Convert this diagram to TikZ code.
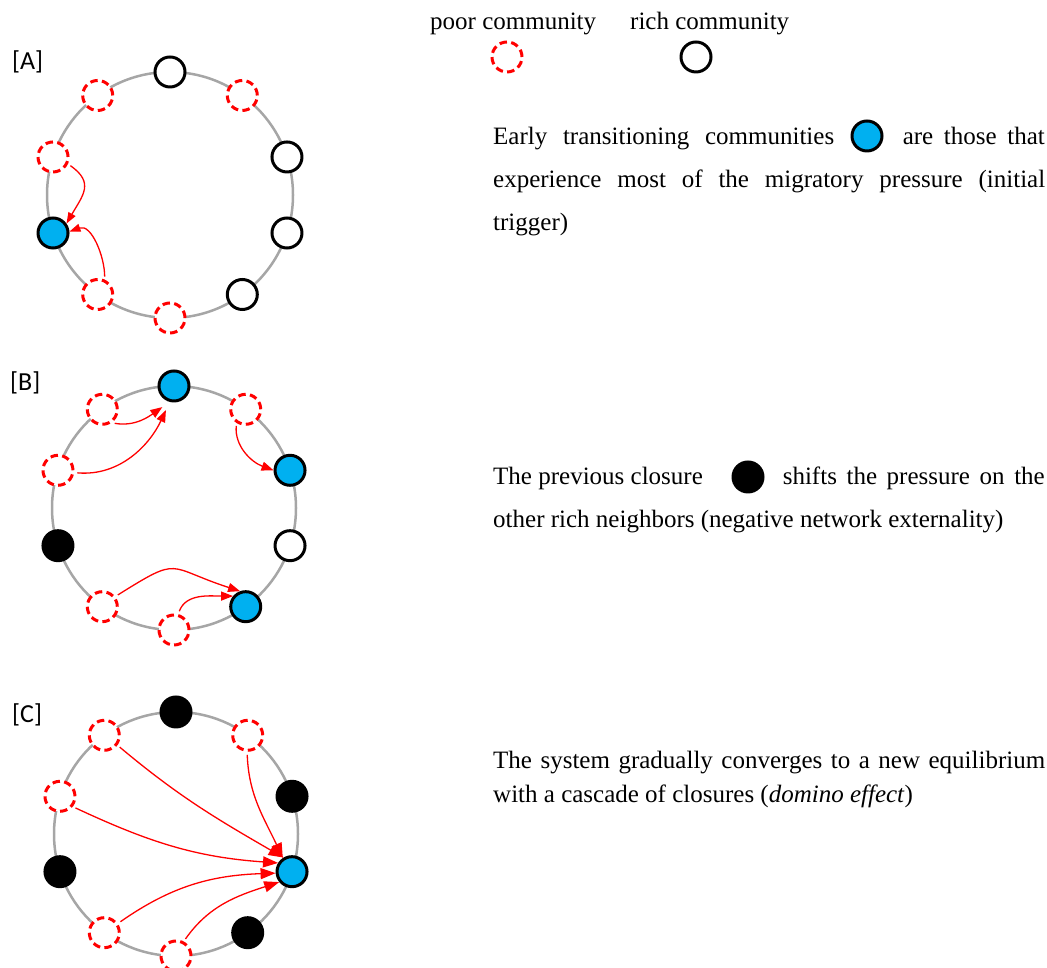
\documentclass[tikz,border=0pt]{standalone}
\usepackage{fontspec}
\setmainfont{Liberation Serif}
\newfontfamily\panelfont{Carlito}
\usetikzlibrary{arrows.meta}

\definecolor{ringgray}{RGB}{166,166,166}
\definecolor{transblue}{RGB}{0,176,240}

\begin{document}
\begin{tikzpicture}[
    x=1pt, y=1pt,
    font=\fontsize{25}{30}\selectfont,
    ring/.style={draw=ringgray, line width=2.5pt},
    community/.style={
        circle,
        minimum size=30pt,
        inner sep=0pt,
        line width=3pt
    },
    poor/.style={
        community,
        draw=red,
        fill=white,
        dash pattern=on 7.5pt off 4.28pt
    },
    rich/.style={community, draw=black, fill=white},
    early/.style={community, draw=black, fill=transblue},
    closed/.style={community, draw=black, fill=black},
    push/.style={
        -{Triangle[length=12pt,width=9pt]},
        red,
        line width=1.3pt,
        shorten <=3pt
    },
    pushbig/.style={
        push,
        -{Triangle[length=15pt,width=11pt]}
    },
    textline/.style={anchor=base west, inner sep=0pt},
    panel/.style={
        font=\panelfont\fontsize{26}{30}\selectfont,
        anchor=base west,
        inner sep=0pt
    }
]
\path[use as bounding box] (0,0) rectangle (1047,968);

% Legend
\node[textline] (poorlabel) at (430,938) {poor community};
\node[textline] (richlabel) at (630,938) {rich community};
\node[poor] (poorkey) at (507,911) {};
\node[rich] (richkey) at (696,911) {};

% [A] initial trigger
\node[panel] (panelA) at (12,898) {[A]};
\begin{scope}[shift={(170,773)}]
\draw[ring] (0,0) circle[radius=123pt];
\node[rich] (a90) at (90:123pt) {};
\node[poor] (a126) at (126:123pt) {};
\node[poor] (a162) at (162:123pt) {};
\node[early] (a198) at (198:123pt) {};
\node[poor] (a234) at (234:123pt) {};
\node[poor] (a270) at (270:123pt) {};
\node[rich] (a306) at (306:123pt) {};
\node[rich] (a342) at (342:123pt) {};
\node[rich] (a18) at (18:123pt) {};
\node[poor] (a54) at (54:123pt) {};
\end{scope}

\draw[push, -{Triangle[length=11pt,width=8pt]}] (a162.-25) to[out=-35, in=60, looseness=1.4] (a198.35);
\draw[push, -{Triangle[length=11pt,width=8pt]}] (a234.65) to[out=90, in=20] (a198.5);

\node[textline] (texta1) at (493,823) {\makebox[341pt][s]{Early transitioning communities}};
\node[early] (earlykey) at (867,832) {};
\node[textline, anchor=base east] (texta2) at (1045,823) {\makebox[142pt][s]{are those that}};
\node[textline] (texta3) at (493,780) {\makebox[552pt][s]{experience most of the migratory pressure (initial}};
\node[textline] (texta4) at (493,737) {trigger)};

% [B] pressure shifts to the neighbours
\node[panel] (panelB) at (10,577) {[B]};
\begin{scope}[shift={(174,460)}]
\draw[ring] (0,0) circle[radius=122pt];
\node[early] (b90) at (90:122pt) {};
\node[poor] (b126) at (126:122pt) {};
\node[poor] (b162) at (162:122pt) {};
\node[closed] (b198) at (198:122pt) {};
\node[poor] (b234) at (234:122pt) {};
\node[poor] (b270) at (270:122pt) {};
\node[early] (b306) at (306:122pt) {};
\node[rich] (b342) at (342:122pt) {};
\node[early] (b18) at (18:122pt) {};
\node[poor] (b54) at (54:122pt) {};
\end{scope}

\draw[push, shorten >=9pt] (b126.-55) to[out=-10, in=215] (b90.255);
\draw[push, shorten >=9pt] (b162.-8) to[out=-5, in=245] (b90.255);
\draw[push] (b54.236) to[out=-95, in=160] (b18.180);
\draw[push] (b234.38) to[out=32, in=162, looseness=1.6] (b306.110);
\draw[push] (b270.75) to[out=70, in=180] (b306.140);

\node[textline] (textb1) at (493,483) {The previous closure};
\node[closed] (closedkey) at (748,491) {};
\node[textline, anchor=base east] (textb2) at (1045,483) {\makebox[262pt][s]{shifts the pressure on the}};
\node[textline] (textb3) at (493,440) {other rich neighbors (negative network externality)};

% [C] cascade of closures
\node[panel] (panelC) at (12,245) {[C]};
\begin{scope}[shift={(176,134)}]
\draw[ring] (0,0) circle[radius=122pt];
\node[closed] (c90) at (90:122pt) {};
\node[poor] (c126) at (126:122pt) {};
\node[poor] (c162) at (162:122pt) {};
\node[closed] (c198) at (198:122pt) {};
\node[poor] (c234) at (234:122pt) {};
\node[poor] (c270) at (270:122pt) {};
\node[closed] (c306) at (306:122pt) {};
\node[early] (c342) at (342:122pt) {};
\node[closed] (c18) at (18:122pt) {};
\node[poor] (c54) at (54:122pt) {};
\end{scope}

\draw[pushbig] (c126.-37) to[out=-40, in=150] (c342.121);
\draw[pushbig] (c54.-92) to[out=-88, in=115] (c342.124);
\draw[pushbig] (c162.-39) to[out=-25, in=176] (c342.148);
\draw[pushbig] (c234.34) to[out=35, in=182] (c342.185);
\draw[pushbig] (c270.62) to[out=55, in=198] (c342.219);

\node[textline] (textc1) at (493,199) {\makebox[552pt][s]{The system gradually converges to a new equilibrium}};
\node[textline] (textc2) at (493,165) {with a cascade of closures (\textit{domino effect})};

\end{tikzpicture}
\end{document}
